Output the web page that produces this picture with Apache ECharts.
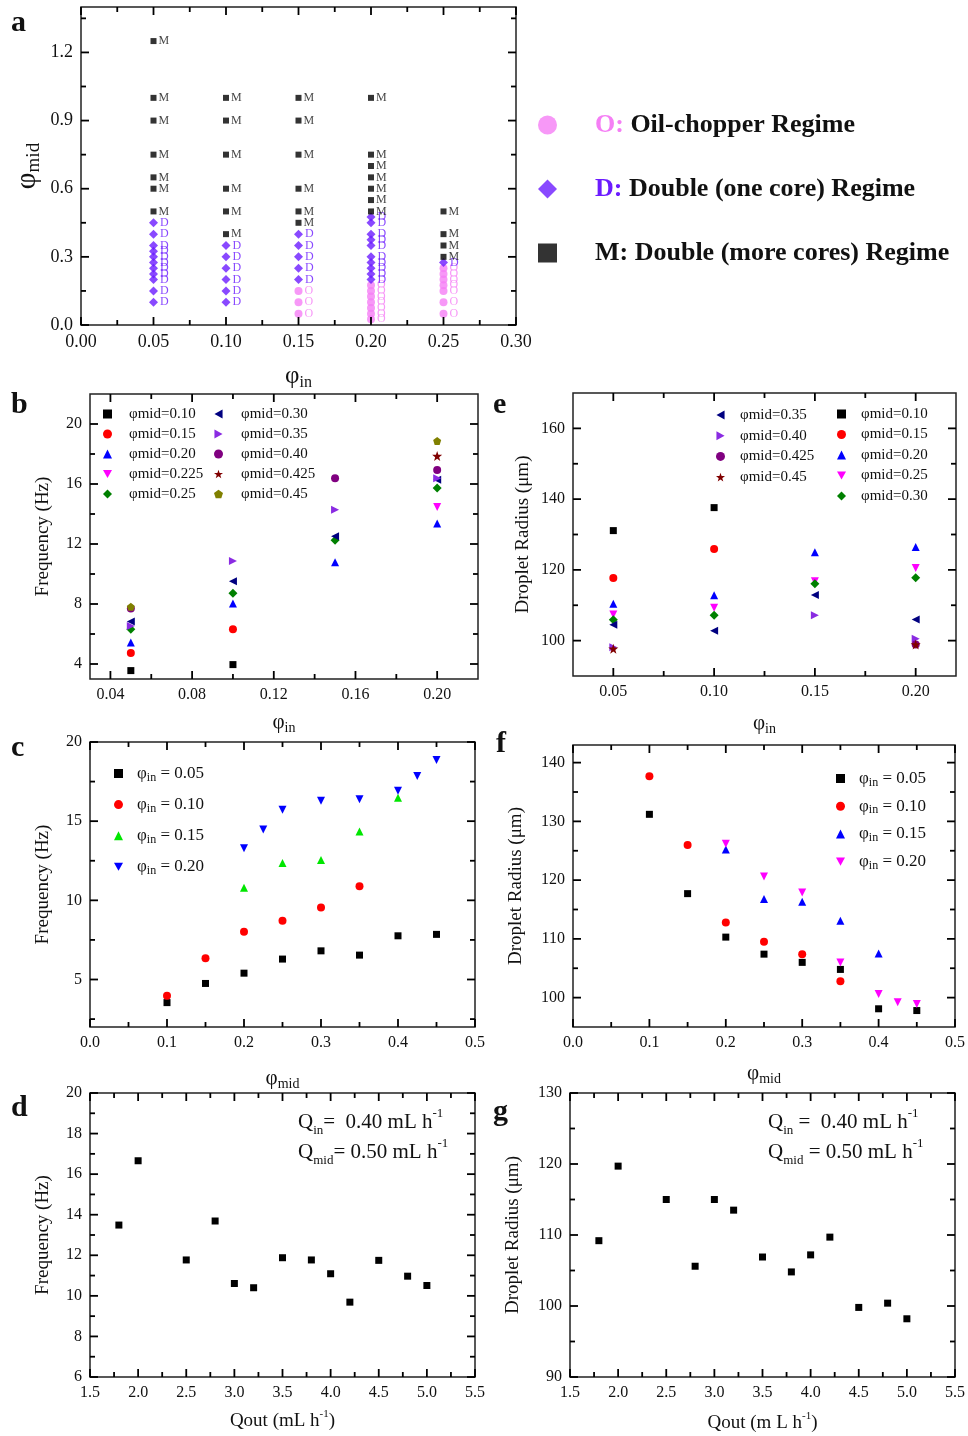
<!DOCTYPE html>
<html><head><meta charset="utf-8">
<script src="https://cdn.jsdelivr.net/npm/echarts@6/dist/echarts.min.js"></script>
<style>html,body{margin:0;padding:0;background:#fff}#c{width:968px;height:1436px}</style>
</head><body><div id="c"></div><script>
// ---------------- DATA ----------------
// Panel a: regime map (phi_in columns, phi_mid values per regime)
const aPhiIn = [0.05, 0.10, 0.15, 0.20, 0.25];
const aMulti = [[1.25,1.0,0.9,0.75,0.65,0.6,0.5],[1.0,0.9,0.75,0.6,0.5,0.4],[1.0,0.9,0.75,0.6,0.5,0.45],[1.0,0.75,0.7,0.65,0.6,0.55,0.5],[0.5,0.4,0.35,0.3]];
const aDouble = [[0.45,0.40,0.35,0.325,0.30,0.275,0.25,0.225,0.20,0.15,0.10],[0.35,0.30,0.25,0.20,0.15,0.10],[0.40,0.35,0.30,0.25,0.20],[0.475,0.45,0.40,0.375,0.35,0.30,0.275,0.25,0.225,0.20],[0.275]];
const aOil = [[],[],[0.15,0.10,0.05],[0.175,0.15,0.125,0.10,0.075,0.05,0.025],[0.25,0.225,0.20,0.175,0.15,0.10,0.05]];

// Panel b: frequency vs phi_in
const bPhiIn = [0.05, 0.10, 0.15, 0.20];
const bMid010 = [3.56, 3.96, null, null];
const bMid015 = [4.73, 6.32, null, null];
const bMid020 = [5.44, 8.03, 10.79, 13.36];
const bMid0225 = [null, null, null, 14.47];
const bMid025 = [6.32, 8.71, 12.25, 15.73];
const bMid030 = [6.83, 9.51, 12.52, 16.28];
const bMid035 = [6.54, 10.86, 14.29, 16.39];
const bMid040 = [7.70, null, 16.39, 16.94];
const bMid0425 = [null, null, null, 17.87];
const bMid045 = [7.81, null, null, 18.87];

// Panel c: frequency vs phi_mid
const cPhiMid = [0.10, 0.15, 0.20, 0.225, 0.25, 0.30, 0.35, 0.40, 0.425, 0.45];
const cIn005 = [3.54, 4.75, 5.40, null, 6.29, 6.81, 6.54, 7.76, null, 7.85];
const cIn010 = [3.97, 6.35, 8.02, null, 8.71, 9.54, 10.89, null, null, null];
const cIn015 = [null, null, 10.80, null, 12.36, 12.55, 14.35, 16.48, null, null];
const cIn020 = [null, null, 13.29, 14.47, 15.72, 16.29, 16.39, 16.92, 17.85, 18.86];

// Panel d: frequency vs Qout
const dQout = [1.8, 2.0, 2.5, 2.8, 3.0, 3.2, 3.5, 3.8, 4.0, 4.2, 4.5, 4.8, 5.0];
const dFreq = [13.49, 16.66, 11.77, 13.69, 10.61, 10.40, 11.88, 11.77, 11.09, 9.69, 11.75, 10.97, 10.51];

// Panel e: droplet radius vs phi_in
const ePhiIn = [0.05, 0.10, 0.15, 0.20];
const eMid010 = [131.1, 137.6, null, null];
const eMid015 = [117.7, 125.9, null, null];
const eMid020 = [110.4, 112.8, 125.0, 126.5];
const eMid025 = [107.4, 109.3, 116.8, 120.5];
const eMid030 = [105.9, 107.2, 116.1, 117.8];
const eMid035 = [104.5, 102.8, 112.9, 106.0];
const eMid040 = [98.1, null, 107.2, 100.5];
const eMid0425 = [null, null, null, 98.9];
const eMid045 = [97.7, null, null, 98.9];

// Panel f: droplet radius vs phi_mid
const fPhiMid = [0.10, 0.15, 0.20, 0.25, 0.30, 0.35, 0.40, 0.425, 0.45];
const fIn005 = [131.2, 117.7, 110.3, 107.4, 106.0, 104.8, 98.1, null, 97.8];
const fIn010 = [137.7, 126.0, 112.8, 109.5, 107.4, 102.8, null, null, null];
const fIn015 = [null, null, 125.2, 116.8, 116.3, 113.1, 107.5, null, null];
const fIn020 = [null, null, 126.2, 120.6, 117.9, 106.0, 100.6, 99.2, 98.9];

// Panel g: droplet radius vs Qout
const gQout = [1.8, 2.0, 2.5, 2.8, 3.0, 3.2, 3.5, 3.8, 4.0, 4.2, 4.5, 4.8, 5.0];
const gRadius = [109.2, 119.7, 115.0, 105.6, 115.0, 113.5, 106.9, 104.8, 107.2, 109.7, 99.8, 100.4, 98.2];

// Tick labels (major) and minor tick values
const aXTicks = [0, 0.05, 0.10, 0.15, 0.20, 0.25, 0.30];
const aXMinor = [0.025, 0.075, 0.125, 0.175, 0.225, 0.275];
const aYTicks = [0, 0.3, 0.6, 0.9, 1.2];
const aYMinor = [0.15, 0.45, 0.75, 1.05, 1.35];
const bXTicks = [0.04, 0.08, 0.12, 0.16, 0.20];
const bXMinor = [0.06, 0.10, 0.14, 0.18];
const bYTicks = [4, 8, 12, 16, 20];
const bYMinor = [6, 10, 14, 18];
const eXTicks = [0.05, 0.10, 0.15, 0.20];
const eXMinor = [0.075, 0.125, 0.175];
const eYTicks = [100, 120, 140, 160];
const eYMinor = [110, 130, 150];
const cXTicks = [0, 0.1, 0.2, 0.3, 0.4, 0.5];
const cXMinor = [0.05, 0.15, 0.25, 0.35, 0.45];
const cYTicks = [5, 10, 15, 20];
const cYMinor = [2.5, 7.5, 12.5, 17.5];
const fYTicks = [100, 110, 120, 130, 140];
const fYMinor = [105, 115, 125, 135];
const dXTicks = [1.5, 2.0, 2.5, 3.0, 3.5, 4.0, 4.5, 5.0, 5.5];
const dXMinor = [1.75, 2.25, 2.75, 3.25, 3.75, 4.25, 4.75, 5.25];
const dYTicks = [6, 8, 10, 12, 14, 16, 18, 20];
const dYMinor = [7, 9, 11, 13, 15, 17, 19];
const gYTicks = [90, 100, 110, 120, 130];
const gYMinor = [95, 105, 115, 125];

// ---------------- BUILD ----------------
const FONT = 'Liberation Serif';
const INK = '#111';
const grids = [], xAxes = [], yAxes = [], series = [], legends = [], titles = [];

function richSub(fs, sfs, L) {
  return {
    n: {fontSize: fs, fontFamily: FONT, color: INK, lineHeight: L, fontWeight: 'normal'},
    s: {fontSize: sfs, fontFamily: FONT, color: INK, verticalAlign: 'bottom', lineHeight: sfs, fontWeight: 'normal'},
    p: {fontSize: sfs, fontFamily: FONT, color: INK, verticalAlign: 'top', lineHeight: sfs, fontWeight: 'normal'},
    sp: {width: 10}
  };
}

// tick marks as thin rect symbols placed on the frame through the axes' scales
function tickSeries(xi, yi, data, w, h, off) {
  series.push({type: 'scatter', name: 'tick', xAxisIndex: xi, yAxisIndex: yi, data: data,
    symbol: 'rect', symbolSize: [w, h], symbolOffset: off, clip: false, silent: true, z: 6,
    itemStyle: {color: '#000', opacity: 1}, emphasis: {disabled: true}});
}

function addPanel(g, xa, ya) {
  const gi = grids.length;
  grids.push({left: g[0], top: g[1], width: g[2], height: g[3], show: true,
    borderColor: '#222', borderWidth: 1.5, backgroundColor: 'transparent'});
  const xi = xAxes.length, yi = yAxes.length;
  const mk = (a, pos) => {
    const o = {type: 'value', gridIndex: gi, min: a.min, max: a.max, position: pos, silent: true,
      splitLine: {show: false}, axisLine: {show: false, onZero: false},
      axisTick: {show: false}, minorTick: {show: false},
      axisLabel: {show: true, customValues: a.major, formatter: (v) => v.toFixed(a.dec),
        fontFamily: FONT, fontSize: a.fs || 16, color: INK, margin: a.margin || 8}};
    if (a.name) {
      o.name = a.name; o.nameLocation = 'middle'; o.nameGap = a.gap;
      o.nameTextStyle = Object.assign({fontFamily: FONT, fontSize: 19, color: INK}, a.nameStyle || {});
    }
    return o;
  };
  xAxes.push(mk(xa, 'bottom'));
  yAxes.push(mk(ya, 'left'));
  const W = 1.8, MJ = 8, MN = 5;
  tickSeries(xi, yi, xa.major.map(v => [v, ya.min]), W, MJ, [0, -MJ / 2]);
  tickSeries(xi, yi, xa.major.map(v => [v, ya.max]), W, MJ, [0, MJ / 2]);
  tickSeries(xi, yi, xa.minor.map(v => [v, ya.min]), W, MN, [0, -MN / 2]);
  tickSeries(xi, yi, xa.minor.map(v => [v, ya.max]), W, MN, [0, MN / 2]);
  tickSeries(xi, yi, ya.major.map(v => [xa.min, v]), MJ, W, [MJ / 2, 0]);
  tickSeries(xi, yi, ya.major.map(v => [xa.max, v]), MJ, W, [-MJ / 2, 0]);
  tickSeries(xi, yi, ya.minor.map(v => [xa.min, v]), MN, W, [MN / 2, 0]);
  tickSeries(xi, yi, ya.minor.map(v => [xa.max, v]), MN, W, [-MN / 2, 0]);
  return {xi, yi};
}

function pairs(xs, ys) {
  const out = [];
  xs.forEach((x, i) => { if (ys[i] !== null && ys[i] !== undefined) out.push([x, ys[i]]); });
  return out;
}

const SYM = {
  down: 'path://M0,0L10,0L5,9Z',
  left: 'path://M0,5L9,0L9,10Z',
  right: 'path://M0,0L9,5L0,10Z',
  star: 'path://M5,0L6.18,3.38L9.76,3.45L6.9,5.62L7.94,9.05L5,7L2.06,9.05L3.1,5.62L0.24,3.45L3.82,3.38Z',
  pent: 'path://M5,0L9.76,3.45L7.94,9.05L2.06,9.05L0.24,3.45Z'
};
const SIZE = {rect: 7, circle: 8, triangle: 8, diamond: 9};
function sc(p, name, data, sym, color, size) {
  series.push({type: 'scatter', name: name, xAxisIndex: p.xi, yAxisIndex: p.yi, data: data,
    symbol: SYM[sym] || sym, symbolSize: size || SIZE[sym] || 8, itemStyle: {color: color, opacity: 1},
    silent: true, z: 3});
}
function title(text, left, top, style) {
  titles.push({text: text, left: left, top: top, padding: 0, textStyle: style});
}
const letterStyle = {fontFamily: FONT, fontSize: 30, fontWeight: 'bold', color: INK};

// ---- Panel a ----
const PINK = '#f57ef5', PURP = '#6c1cff';
const pA = addPanel([81, 7, 435, 318],
  {min: 0, max: 0.3, major: aXTicks, minor: aXMinor, dec: 2, fs: 18,
   name: '{n|φ}{s|in}', gap: 36, nameStyle: {rich: richSub(25, 16, 30)}},
  {min: 0, max: 1.4, major: aYTicks, minor: aYMinor, dec: 1, fs: 18,
   name: '{n|φ}{s|mid}', gap: 37, nameStyle: {rich: richSub(29, 19, 34)}});
function colData(lists) {
  const out = [];
  lists.forEach((l, i) => l.forEach(v => out.push([aPhiIn[i], v])));
  return out;
}
const aLabel = (t, c) => ({show: true, position: 'right', distance: 2, formatter: t, color: c,
  fontFamily: FONT, fontSize: 12});
series.push({type: 'scatter', name: 'a|O', xAxisIndex: pA.xi, yAxisIndex: pA.yi, data: colData(aOil),
  symbol: 'circle', symbolSize: 8, itemStyle: {color: PINK}, label: aLabel('O', PINK), silent: true});
series.push({type: 'scatter', name: 'a|D', xAxisIndex: pA.xi, yAxisIndex: pA.yi, data: colData(aDouble),
  symbol: 'diamond', symbolSize: 9, itemStyle: {color: PURP}, label: aLabel('D', PURP), silent: true});
series.push({type: 'scatter', name: 'a|M', xAxisIndex: pA.xi, yAxisIndex: pA.yi, data: colData(aMulti),
  symbol: 'rect', symbolSize: 6, itemStyle: {color: '#000'}, label: aLabel('M', INK), silent: true});
legends.push({orient: 'vertical', left: 533, top: 105, itemWidth: 19, itemHeight: 19, itemGap: 34,
  selectedMode: false, data: ['a|O', 'a|D', 'a|M'],
  formatter: (n) => ({'a|O': '{sp|}{o|O:} {t|Oil-chopper Regime}', 'a|D': '{sp|}{d|D:} {t|Double (one core) Regime}',
    'a|M': '{sp|}{t|M: Double (more cores) Regime}'})[n],
  textStyle: {fontFamily: FONT, fontSize: 26, fontWeight: 'bold', color: INK, lineHeight: 30,
    rich: {sp: {width: 33}, o: {color: PINK, fontFamily: FONT, fontSize: 26, fontWeight: 'bold'},
      d: {color: PURP, fontFamily: FONT, fontSize: 26, fontWeight: 'bold'},
      t: {color: INK, fontFamily: FONT, fontSize: 26, fontWeight: 'bold'}}}});
title('a', 11, 8, letterStyle);

// ---- Panel b ----
const pB = addPanel([90, 394, 388, 285],
  {min: 0.03, max: 0.22, major: bXTicks, minor: bXMinor, dec: 2,
   name: '{n|φ}{s|in}', gap: 30, nameStyle: {rich: richSub(21, 14, 26)}},
  {min: 3, max: 22, major: bYTicks, minor: bYMinor, dec: 0, name: 'Frequency (Hz)', gap: 37});
const bSer = [
  ['b|φmid=0.10', bMid010, 'rect', '#000000'], ['b|φmid=0.15', bMid015, 'circle', '#ff0000'],
  ['b|φmid=0.20', bMid020, 'triangle', '#0000ff'], ['b|φmid=0.225', bMid0225, 'down', '#ff00ff'],
  ['b|φmid=0.25', bMid025, 'diamond', '#008000'], ['b|φmid=0.30', bMid030, 'left', '#000080'],
  ['b|φmid=0.35', bMid035, 'right', '#8a2be2'], ['b|φmid=0.40', bMid040, 'circle', '#800080'],
  ['b|φmid=0.425', bMid0425, 'star', '#800000'], ['b|φmid=0.45', bMid045, 'pent', '#808000']];
bSer.forEach(s => sc(pB, s[0], pairs(bPhiIn, s[1]), s[2], s[3], s[2] === 'star' ? 10 : null));
const smallLeg = (left, top, data, gap, sp) => ({orient: 'vertical', left: left, top: top,
  itemWidth: 9, itemHeight: 9, itemGap: gap, selectedMode: false, data: data,
  formatter: (n) => '{sp|}' + n.split('|')[1],
  textStyle: {fontFamily: FONT, fontSize: 15, color: INK, lineHeight: 16, rich: {sp: {width: sp}}}});
legends.push(smallLeg(98, 401, bSer.slice(0, 5).map(s => s[0]), 4, 12));
legends.push(smallLeg(209, 401, bSer.slice(5).map(s => s[0]), 4, 13));
title('b', 11, 390, letterStyle);

// ---- Panel e ----
const pE = addPanel([573, 393, 383, 283],
  {min: 0.03, max: 0.22, major: eXTicks, minor: eXMinor, dec: 2,
   name: '{n|φ}{s|in}', gap: 34, nameStyle: {rich: richSub(21, 14, 26)}},
  {min: 90, max: 170, major: eYTicks, minor: eYMinor, dec: 0, name: 'Droplet Radius (μm)', gap: 40});
const eSer = [
  ['e|φmid=0.10', eMid010, 'rect', '#000000'], ['e|φmid=0.15', eMid015, 'circle', '#ff0000'],
  ['e|φmid=0.20', eMid020, 'triangle', '#0000ff'], ['e|φmid=0.25', eMid025, 'down', '#ff00ff'],
  ['e|φmid=0.30', eMid030, 'diamond', '#008000'], ['e|φmid=0.35', eMid035, 'left', '#000080'],
  ['e|φmid=0.40', eMid040, 'right', '#8a2be2'], ['e|φmid=0.425', eMid0425, 'circle', '#800080'],
  ['e|φmid=0.45', eMid045, 'star', '#800000']];
eSer.forEach(s => sc(pE, s[0], pairs(ePhiIn, s[1]), s[2], s[3], s[2] === 'star' ? 10 : null));
legends.push(smallLeg(711, 402, eSer.slice(5).map(s => s[0]), 4.7, 10));
legends.push(smallLeg(832, 401, eSer.slice(0, 5).map(s => s[0]), 4.5, 10));
title('e', 493, 390, letterStyle);

// ---- Panel c ----
const pC = addPanel([90, 742, 385, 285],
  {min: 0, max: 0.5, major: cXTicks, minor: cXMinor, dec: 1,
   name: '{n|φ}{s|mid}', gap: 38, nameStyle: {rich: richSub(21, 14, 26)}},
  {min: 2, max: 20, major: cYTicks, minor: cYMinor, dec: 0, name: 'Frequency (Hz)', gap: 37});
const cSer = [
  ['c|0.05', cIn005, 'rect', '#000000'], ['c|0.10', cIn010, 'circle', '#ff0000'],
  ['c|0.15', cIn015, 'triangle', '#00e600'], ['c|0.20', cIn020, 'down', '#0000ff']];
cSer.forEach(s => sc(pC, s[0], pairs(cPhiMid, s[1]), s[2], s[3]));
const inLeg = (left, top, data, gap) => ({orient: 'vertical', left: left, top: top,
  itemWidth: 9, itemHeight: 9, itemGap: gap, selectedMode: false, data: data,
  formatter: (n) => '{sp|}{n|φ}{s|in}{n| = ' + n.split('|')[1] + '}',
  textStyle: {fontFamily: FONT, fontSize: 17, color: INK, rich: Object.assign(richSub(17, 12, 20), {sp: {width: 9}})}});
legends.push(inLeg(109, 760, cSer.map(s => s[0]), 12.6));
title('c', 11, 733, letterStyle);

// ---- Panel f ----
const pF = addPanel([573, 745, 383, 282],
  {min: 0, max: 0.5, major: cXTicks, minor: cXMinor, dec: 1,
   name: '{n|φ}{s|mid}', gap: 33, nameStyle: {rich: richSub(21, 14, 26)}},
  {min: 95, max: 143, major: fYTicks, minor: fYMinor, dec: 0, name: 'Droplet Radius (μm)', gap: 47});
const fSer = [
  ['f|0.05', fIn005, 'rect', '#000000'], ['f|0.10', fIn010, 'circle', '#ff0000'],
  ['f|0.15', fIn015, 'triangle', '#0000ff'], ['f|0.20', fIn020, 'down', '#ff00ff']];
fSer.forEach(s => sc(pF, s[0], pairs(fPhiMid, s[1]), s[2], s[3]));
legends.push(inLeg(831, 765, fSer.map(s => s[0]), 9.2));
title('f', 496, 729, letterStyle);

// ---- Panel d ----
const pD = addPanel([90, 1093, 385, 284],
  {min: 1.5, max: 5.5, major: dXTicks, minor: dXMinor, dec: 1,
   name: '{n|Qout (mL h}{p|-1}{n|)}', gap: 32, nameStyle: {rich: richSub(19, 11, 24)}},
  {min: 6, max: 20, major: dYTicks, minor: dYMinor, dec: 0, name: 'Frequency (Hz)', gap: 37});
sc(pD, 'd|freq', pairs(dQout, dFreq), 'rect', '#000000');
const annRich = richSub(21, 13, 30);
title('{n|Q}{s|in}{n|=  0.40 mL h}{p|-1}\n{n|Q}{s|mid}{n|= 0.50 mL h}{p|-1}', 298, 1107,
  {fontFamily: FONT, fontSize: 21, fontWeight: 'normal', color: INK, rich: annRich});
title('d', 11, 1093, letterStyle);

// ---- Panel g ----
const pG = addPanel([570, 1093, 386, 284],
  {min: 1.5, max: 5.5, major: dXTicks, minor: dXMinor, dec: 1,
   name: '{n|Qout (m L h}{p|-1}{n|)}', gap: 34, nameStyle: {rich: richSub(19, 11, 24)}},
  {min: 90, max: 130, major: gYTicks, minor: gYMinor, dec: 0, name: 'Droplet Radius (μm)', gap: 47});
sc(pG, 'g|radius', pairs(gQout, gRadius), 'rect', '#000000');
title('{n|Q}{s|in}{n| =  0.40 mL h}{p|-1}\n{n|Q}{s|mid}{n| = 0.50 mL h}{p|-1}', 768, 1107,
  {fontFamily: FONT, fontSize: 21, fontWeight: 'normal', color: INK, rich: annRich});
title('g', 493, 1097, letterStyle);

const chart = echarts.init(document.getElementById('c'), null, {renderer: 'canvas'});
chart.setOption({
  animation: false,
  backgroundColor: '#fff',
  textStyle: {fontFamily: FONT},
  title: titles, grid: grids, xAxis: xAxes, yAxis: yAxes, legend: legends, series: series
});
</script></body></html>
